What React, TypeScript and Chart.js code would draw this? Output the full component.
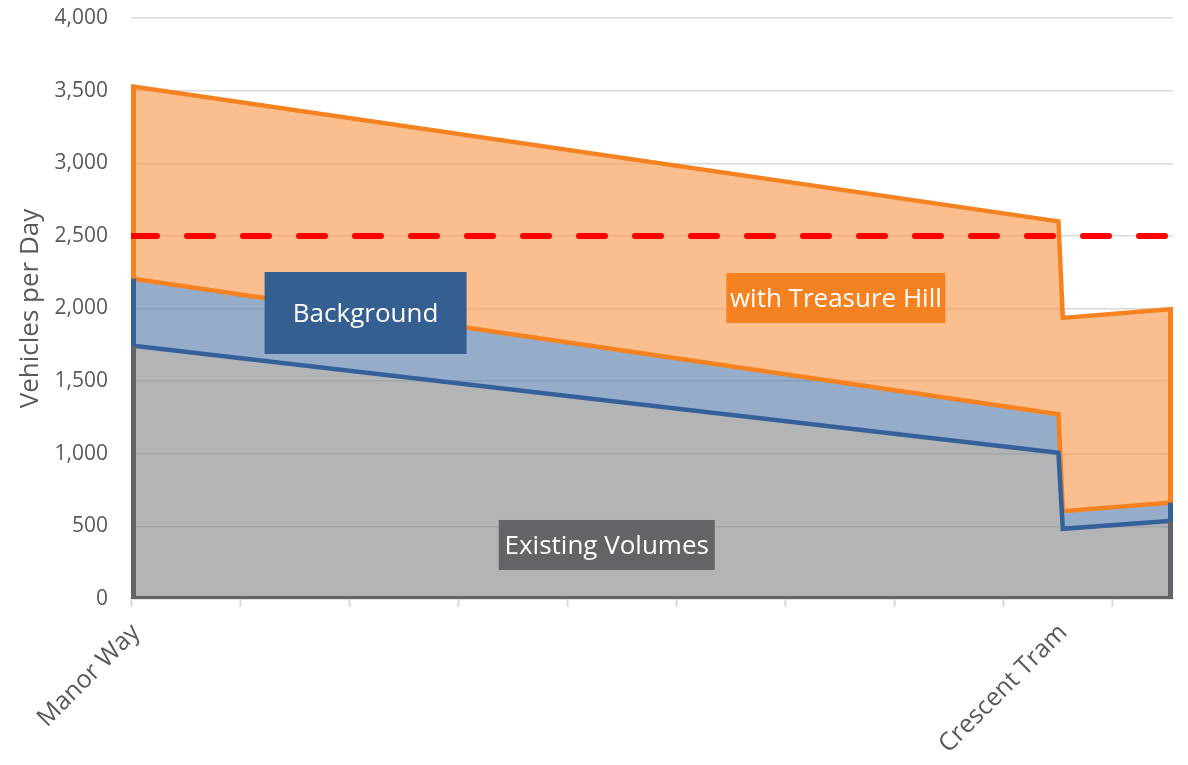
import React, { useEffect, useRef } from "react";
import { Chart, registerables } from "chart.js";

Chart.register(...registerables);

// ---- data ----
// positions along the corridor (in x-axis tick-interval units)
const pointPositions = [0, 8.5, 8.54, 9.55];
const existingVolumes = [1745, 1007, 483, 538];
const backgroundGrowth = [462, 265, 122, 127];
const treasureHillTrips = [1324, 1328, 1330, 1332];

const thresholdValue = 2500;
const thresholdPositions = [0, 9.55];

const tickMarkPositions = [0, 1, 2, 3, 4, 5, 6, 7, 8, 9];
const labelPositions = [0, 8.5];
const labelTexts = ["Manor Way", "Crescent Tram"];

const xMax = 9.55;
const yMax = 4000;
const yStep = 500;

const annotationTexts = ["Background", "with Treasure Hill", "Existing Volumes"];
const annotationX = [2.15, 6.46, 4.36];
const annotationY = [1969, 2072, 372];

// ---- styles ----
const FONT = "'Open Sans', 'DejaVu Sans', sans-serif";
const GRAY_FILL = "rgba(128,130,133,0.6)";
const BLUE_FILL = "rgba(78,118,165,0.6)";
const ORANGE_FILL = "rgba(248,147,67,0.6)";
const GRAY_LINE = "#636467";
const BLUE_LINE = "#35619A";
const ORANGE_LINE = "#F58220";
const TEXT_GRAY = "#595959";
const GRID = "#d9d9d9";
const annotationBoxColors = ["#355F91", "#F58220", "#636467"];
const annotationBoxW = [202, 219, 216];
const annotationBoxH = [82, 50, 50];

const edgesPlugin = {
  id: "areaEdges",
  afterDatasetDraw(chart: any, args: any) {
    if (args.index !== 0) return;
    const xs = chart.scales.x;
    const ys = chart.scales.y;
    const ctx = chart.ctx as CanvasRenderingContext2D;
    const lw = 5;
    const last = pointPositions.length - 1;
    ctx.save();
    ctx.lineCap = "butt";
    [0, last].forEach((i, k) => {
      const px = xs.getPixelForValue(pointPositions[i]) + (k === 0 ? lw / 2 : -lw / 2);
      const levels = [
        0,
        existingVolumes[i],
        existingVolumes[i] + backgroundGrowth[i],
        existingVolumes[i] + backgroundGrowth[i] + treasureHillTrips[i],
      ];
      const colors = [GRAY_LINE, BLUE_LINE, ORANGE_LINE];
      for (let s = 0; s < 3; s++) {
        ctx.strokeStyle = colors[s];
        ctx.lineWidth = lw;
        ctx.beginPath();
        ctx.moveTo(px, ys.getPixelForValue(levels[s]));
        ctx.lineTo(px, ys.getPixelForValue(levels[s + 1]));
        ctx.stroke();
      }
    });
    const y0 = ys.getPixelForValue(0) - 1.5;
    ctx.strokeStyle = GRAY_LINE;
    ctx.lineWidth = 3;
    ctx.beginPath();
    ctx.moveTo(xs.getPixelForValue(pointPositions[0]), y0);
    ctx.lineTo(xs.getPixelForValue(pointPositions[last]), y0);
    ctx.stroke();
    ctx.restore();
  },
};

const annotationsPlugin = {
  id: "boxLabels",
  afterDraw(chart: any) {
    const xs = chart.scales.x;
    const ys = chart.scales.y;
    const ctx = chart.ctx as CanvasRenderingContext2D;
    ctx.save();
    annotationTexts.forEach((t, i) => {
      const cx = xs.getPixelForValue(annotationX[i]);
      const cy = ys.getPixelForValue(annotationY[i]);
      const w = annotationBoxW[i];
      const h = annotationBoxH[i];
      ctx.fillStyle = annotationBoxColors[i];
      ctx.fillRect(cx - w / 2, cy - h / 2, w, h);
      ctx.fillStyle = "#ffffff";
      ctx.font = `26px ${FONT}`;
      ctx.textAlign = "center";
      ctx.textBaseline = "alphabetic";
      ctx.fillText(t, cx, cy + 9.3);
    });
    ctx.restore();
  },
};

export default function App() {
  const ref = useRef<HTMLCanvasElement | null>(null);

  useEffect(() => {
    if (!ref.current) return;
    Chart.defaults.font.family = FONT;
    const mk = (vals: number[]) => pointPositions.map((x, i) => ({ x, y: vals[i] }));
    const chart = new Chart(ref.current, {
      type: "line",
      data: {
        datasets: [
          {
            label: "Existing Volumes",
            data: mk(existingVolumes),
            borderColor: BLUE_LINE,
            borderWidth: 4.5,
            backgroundColor: GRAY_FILL,
            fill: "origin",
            pointRadius: 0,
            tension: 0,
            order: 1,
            stack: "volumes",
          },
          {
            label: "Background",
            data: mk(backgroundGrowth),
            borderColor: ORANGE_LINE,
            borderWidth: 4.5,
            backgroundColor: BLUE_FILL,
            fill: "-1",
            pointRadius: 0,
            tension: 0,
            order: 1,
            stack: "volumes",
          },
          {
            label: "with Treasure Hill",
            data: mk(treasureHillTrips),
            borderColor: ORANGE_LINE,
            borderWidth: 4.5,
            backgroundColor: ORANGE_FILL,
            fill: "-1",
            pointRadius: 0,
            tension: 0,
            order: 1,
            stack: "volumes",
          },
          {
            label: "Threshold",
            data: thresholdPositions.map((x) => ({ x, y: thresholdValue })),
            borderColor: "#FF0000",
            borderWidth: 6,
            borderDash: [26, 30],
            borderCapStyle: "round",
            fill: false,
            pointRadius: 0,
            order: 0,
            stack: "threshold",
          },
        ],
      } as any,
      options: {
        animation: false,
        responsive: false,
        events: [],
        layout: { padding: { left: 0, top: 18, right: 15, bottom: 0 } },
        plugins: { legend: { display: false }, tooltip: { enabled: false } },
        scales: {
          x: {
            type: "linear",
            min: 0,
            max: xMax,
            afterBuildTicks: (scale: any) => {
              const vals = Array.from(new Set([...tickMarkPositions, ...labelPositions])).sort((a, b) => a - b);
              scale.ticks = vals.map((v) => ({ value: v }));
            },
            ticks: {
              autoSkip: false,
              maxRotation: 45,
              minRotation: 45,
              padding: 11,
              labelOffset: 5,
              color: TEXT_GRAY,
              font: { size: 25 },
              callback: (v: any) => {
                const i = labelPositions.indexOf(Number(v));
                return i >= 0 ? labelTexts[i] : "";
              },
            },
            grid: {
              drawOnChartArea: false,
              drawTicks: true,
              tickLength: 8,
              tickWidth: 2,
              tickColor: (c: any) =>
                c.tick && tickMarkPositions.includes(c.tick.value) ? GRID : "rgba(0,0,0,0)",
            },
            border: { display: true, color: GRID, width: 1.5 },
            afterFit: (scale: any) => {
              scale.height = 166;
              scale.paddingLeft = 0;
              scale.paddingRight = 0;
              scale.paddingTop = 0;
              scale.paddingBottom = 0;
            },
          },
          y: {
            stacked: true,
            min: 0,
            max: yMax,
            ticks: {
              stepSize: yStep,
              padding: 23,
              color: TEXT_GRAY,
              font: { size: 21 },
              callback: (v: any) => Number(v).toLocaleString("en-US"),
            },
            grid: { color: GRID, lineWidth: 1.5, drawTicks: false },
            border: { display: false },
            title: {
              display: true,
              text: "Vehicles per Day",
              color: TEXT_GRAY,
              font: { size: 26 },
              padding: { top: 15, bottom: 0 },
            },
            afterFit: (scale: any) => {
              scale.width = 131;
              scale.paddingTop = 0;
              scale.paddingBottom = 0;
            },
          },
        },
      } as any,
      plugins: [edgesPlugin, annotationsPlugin],
    });
    return () => chart.destroy();
  }, []);

  return (
    <div style={{ position: "absolute", left: 0, top: 0, width: 1188, height: 765 }}>
      <canvas ref={ref} width={1188} height={765} style={{ display: "block" }} />
    </div>
  );
}
